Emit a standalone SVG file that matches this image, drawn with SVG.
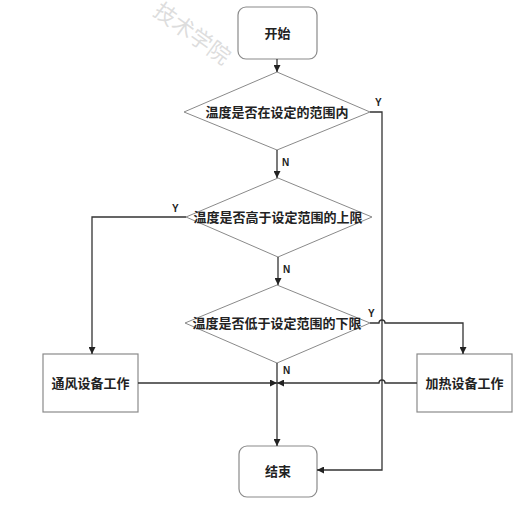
<svg xmlns="http://www.w3.org/2000/svg" width="522" height="507" viewBox="0 0 522 507">
<defs>
<style>
.box{fill:#fff;stroke:#8a8a8a;stroke-width:1.2}
.dia{fill:#fff;stroke:#8a8a8a;stroke-width:1}
.t{font-family:"Liberation Sans","Noto Sans CJK SC",sans-serif;font-size:13px;font-weight:bold;fill:#222;text-anchor:middle;dominant-baseline:central}
.l{font-family:"Liberation Sans",sans-serif;font-size:10px;font-weight:bold;fill:#222}
.c{fill:none;stroke:#333;stroke-width:1.3}
.wm{font-family:"Noto Sans CJK SC",sans-serif;font-size:22px;fill:#bbb;fill-opacity:0.5}
</style>
<marker id="a" viewBox="0 0 10 10" refX="10" refY="5" markerWidth="7" markerHeight="7" orient="auto" markerUnits="userSpaceOnUse"><path d="M0,0L10,5L0,10z" fill="#222"/></marker>
</defs>
<rect width="522" height="507" fill="#fff"/>
<text class="wm" transform="translate(152,14) rotate(36)">技术学院</text>
<g id="start"><rect class="box" x="238" y="7" width="79" height="52" rx="8"/><text class="t" x="277.5" y="33">开始</text></g>
<g id="d1"><polygon class="dia" points="277,72 370,112 277,150 184,112"/><text class="t" x="277" y="112">温度是否在设定的范围内</text></g>
<g id="d2"><polygon class="dia" points="278,178 372,217 278,257 186,217"/><text class="t" x="278" y="217">温度是否高于设定范围的上限</text></g>
<g id="d3"><polygon class="dia" points="277,285 370,323 277,363 185,323"/><text class="t" x="277" y="323">温度是否低于设定范围的下限</text></g>
<g id="fan"><rect class="box" x="43" y="354" width="95" height="58"/><text class="t" x="90.5" y="383">通风设备工作</text></g>
<g id="heat"><rect class="box" x="417" y="354" width="95" height="58"/><text class="t" x="464.5" y="383">加热设备工作</text></g>
<g id="end"><rect class="box" x="239" y="446" width="78" height="51" rx="8"/><text class="t" x="278" y="471">结束</text></g>
<g id="connectors">
<path class="c" d="M277,59V72" marker-end="url(#a)"/>
<path class="c" d="M277,150V178" marker-end="url(#a)"/>
<path class="c" d="M278,257V285" marker-end="url(#a)"/>
<path class="c" d="M370,112H382V470H317" marker-end="url(#a)"/>
<path class="c" d="M186,217H92V354" marker-end="url(#a)"/>
<path class="c" d="M370,323H379A3,3 0 0 1 385,323H463V354" marker-end="url(#a)"/>
<path class="c" d="M138,383H277" marker-end="url(#a)"/>
<path class="c" d="M417,383H385A3,3 0 0 0 379,383H277" marker-end="url(#a)"/>
<path class="c" d="M277,363V446" marker-end="url(#a)"/>
</g>
<g id="labels">
<text class="l" x="375" y="106">Y</text>
<text class="l" x="282" y="166">N</text>
<text class="l" x="172" y="212">Y</text>
<text class="l" x="283" y="273">N</text>
<text class="l" x="368" y="317">Y</text>
<text class="l" x="283" y="374">N</text>
</g>
</svg>
